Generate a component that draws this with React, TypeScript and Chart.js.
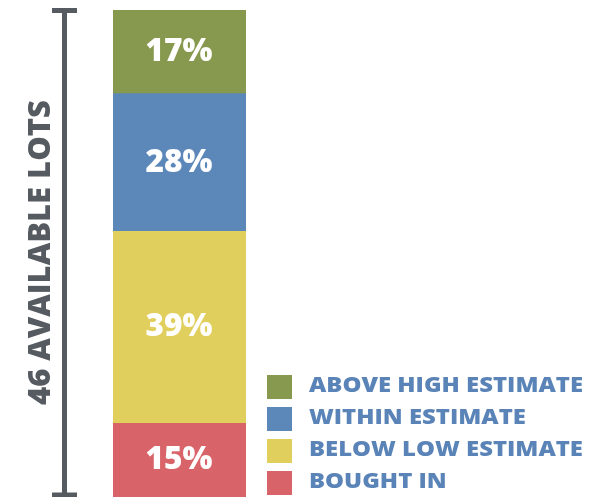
import React, { useEffect, useRef } from "react";
import { Chart, registerables } from "chart.js";

Chart.register(...registerables);

const categories = ["Lots"];
const seriesNames = ["BOUGHT IN", "BELOW LOW ESTIMATE", "WITHIN ESTIMATE", "ABOVE HIGH ESTIMATE"];
const seriesValues = [15, 39, 28, 17];
const seriesColors = ["#d8646a", "#e0cf5d", "#5b87b9", "#87994e"];
const legendOrder = [3, 2, 1, 0];
const bracketLabel = "46 AVAILABLE LOTS";

const FONT = "'Open Sans', Lato, sans-serif";

function widthScale(ctx: CanvasRenderingContext2D, font: string, text: string, target: number) {
  ctx.font = font;
  const w = ctx.measureText(text).width;
  return w > 0 ? target / w : 1;
}

function drawScaled(ctx: CanvasRenderingContext2D, text: string, x: number, y: number, sx: number) {
  ctx.save();
  ctx.translate(x, y);
  ctx.scale(sx, 1);
  ctx.fillText(text, 0, 0);
  ctx.restore();
}

const decorPlugin = {
  id: "decor",
  afterDatasetsDraw(chart: any) {
    const ctx = chart.ctx as CanvasRenderingContext2D;
    const area = chart.chartArea;
    ctx.save();
    // segment labels
    const pctFont = `800 32px ${FONT}`;
    const pctScale = widthScale(ctx, pctFont, "28%", 67);
    chart.data.datasets.forEach((ds: any, i: number) => {
      const meta = chart.getDatasetMeta(i);
      meta.data.forEach((bar: any, j: number) => {
        const yMid = (bar.y + bar.base) / 2;
        ctx.fillStyle = "#ffffff";
        ctx.font = pctFont;
        ctx.textAlign = "center";
        ctx.textBaseline = "middle";
        drawScaled(ctx, ds.data[j] + "%", bar.x - 0.5, yMid, pctScale);
      });
    });
    // bracket
    const bx = 64.5;
    const top = area.top;
    const bottom = 495;
    ctx.strokeStyle = "#565b61";
    ctx.lineWidth = 5;
    ctx.beginPath();
    ctx.moveTo(bx, top);
    ctx.lineTo(bx, bottom);
    ctx.moveTo(52, top + 0.5);
    ctx.lineTo(77, top + 0.5);
    ctx.moveTo(52, bottom);
    ctx.lineTo(77, bottom);
    ctx.stroke();
    // rotated label
    const rotFont = `800 30px ${FONT}`;
    const rotScale = widthScale(ctx, rotFont, bracketLabel, 305);
    ctx.save();
    ctx.translate(41, 252.5);
    ctx.rotate(-Math.PI / 2);
    ctx.fillStyle = "#565b61";
    ctx.font = rotFont;
    ctx.textAlign = "center";
    ctx.textBaseline = "middle";
    drawScaled(ctx, bracketLabel, 0, 0, rotScale);
    ctx.restore();
    // legend
    const legFont = `800 21px ${FONT}`;
    const legScale = widthScale(ctx, legFont, seriesNames[3], 274);
    legendOrder.forEach((idx, k) => {
      const y = 375 + k * 32;
      ctx.fillStyle = seriesColors[idx];
      ctx.fillRect(267, y, 25, 24);
      ctx.fillStyle = "#5a84b8";
      ctx.font = legFont;
      ctx.textAlign = "left";
      ctx.textBaseline = "middle";
      drawScaled(ctx, seriesNames[idx], 309, y + 11, legScale);
    });
    ctx.restore();
  },
};

export default function App() {
  const ref = useRef<HTMLCanvasElement | null>(null);
  useEffect(() => {
    document.body.style.margin = "0";
    if (!ref.current) return;
    const chart = new Chart(ref.current, {
      type: "bar",
      data: {
        labels: categories,
        datasets: seriesNames.map((name, i) => ({
          label: name,
          data: [seriesValues[i]],
          backgroundColor: seriesColors[i],
          borderWidth: 0,
          barPercentage: 1,
          categoryPercentage: 1,
        })),
      },
      options: {
        animation: false,
        responsive: false,
        maintainAspectRatio: false,
        layout: { padding: { left: 113, right: 367, top: 10, bottom: 0 } },
        plugins: { legend: { display: false }, tooltip: { enabled: false } },
        scales: {
          x: { stacked: true, display: false },
          y: { stacked: true, display: false, min: 0, max: 99 },
        },
      },
      plugins: [decorPlugin],
    });
    return () => chart.destroy();
  }, []);
  return (
    <div style={{ position: "absolute", left: 0, top: 0, width: 613, height: 497 }}>
      <canvas ref={ref} width={613} height={497} style={{ width: 613, height: 497, display: "block" }} />
    </div>
  );
}
